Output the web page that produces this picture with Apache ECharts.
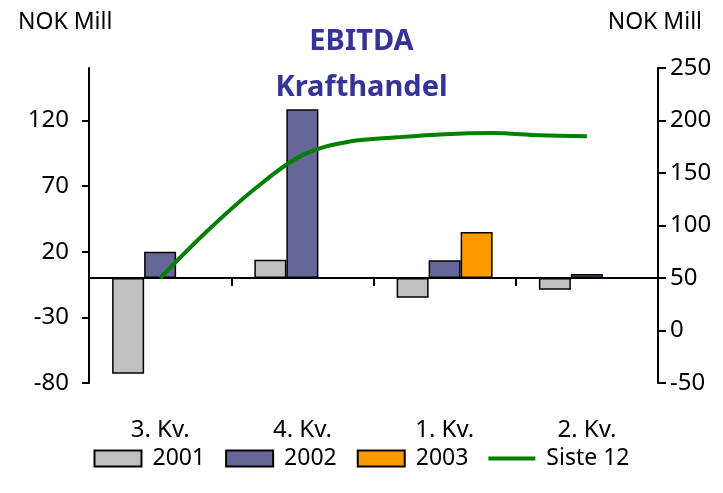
<!DOCTYPE html>
<html>
<head>
<meta charset="utf-8">
<script src="https://cdn.jsdelivr.net/npm/echarts@6/dist/echarts.min.js"></script>
<style>
  html, body { margin: 0; padding: 0; background: #fff; }
  #chart { width: 723px; height: 493px; }
</style>
</head>
<body>
<div id="chart"></div>
<script>
// quarters on the bar axis, months for the rolling line
const quarters = ["3. Kv.", "4. Kv.", "1. Kv.", "2. Kv."];
const months = ["Jul", "Aug", "Sep", "Okt", "Nov", "Des", "Jan", "Feb", "Mar", "Apr", "Mai", "Jun"];

const ebitda2001 = [-73, 14, -15, -9];
const ebitda2002 = [20, 128.5, 13.5, 3];
const ebitda2003 = [null, null, 35, null];
const siste12 = [null, 50, 95, 135, 167, 180, 184, 187, 188, 186, 185, null];

const leftTicks = [-80, -30, 20, 70, 120];

const FONT = "Noto Sans";
const chart = echarts.init(document.getElementById("chart"));

const barStyle = (color) => ({ color: color, borderColor: "#000", borderWidth: 1.5 });

chart.setOption({
  animation: false,
  textStyle: { fontFamily: FONT, color: "#000" },
  title: [
    {
      text: "EBITDA\nKrafthandel",
      left: "center",
      top: 14,
      textStyle: { fontFamily: FONT, fontSize: 29, fontWeight: "bold", color: "#333399", lineHeight: 46 }
    },
    { text: "NOK Mill", left: 13, top: 6, textStyle: { fontFamily: FONT, fontSize: 23, fontWeight: "normal", color: "#000" } },
    { text: "NOK Mill", right: 16, top: 6, textStyle: { fontFamily: FONT, fontSize: 23, fontWeight: "normal", color: "#000" } }
  ],
  legend: {
    top: 442,
    left: "center",
    itemWidth: 47,
    itemHeight: 16,
    itemGap: 20,
    textStyle: { fontFamily: FONT, fontSize: 23, color: "#000", padding: [0, 0, 0, 6] },
    data: [
      { name: "2001", icon: "rect" },
      { name: "2002", icon: "rect" },
      { name: "2003", icon: "rect" },
      { name: "Siste 12", icon: "path://M0,0h60v5h-60z" }
    ]
  },
  grid: { left: 89, right: 65, top: 68, bottom: 110 },
  xAxis: [
    {
      type: "category",
      data: quarters,
      position: "bottom",
      axisLine: { onZero: true, onZeroAxisIndex: 0, lineStyle: { color: "#000", width: 2 } },
      axisTick: { show: true, length: 8, lineStyle: { color: "#000", width: 2 } },
      axisLabel: { show: false },
      splitLine: { show: false }
    },
    {
      type: "category",
      data: quarters,
      position: "bottom",
      axisLine: { show: false, onZero: false },
      axisTick: { show: false },
      axisLabel: { margin: 35, fontFamily: FONT, fontSize: 24, color: "#000" },
      splitLine: { show: false }
    },
    {
      type: "category",
      data: months,
      show: false
    }
  ],
  yAxis: [
    {
      type: "value",
      min: -80,
      max: 160,
      position: "left",
      axisLine: { show: true, lineStyle: { color: "#000", width: 2 } },
      axisTick: { show: true, length: 7, customValues: leftTicks, lineStyle: { color: "#000", width: 2 } },
      axisLabel: { margin: 20, customValues: leftTicks, fontFamily: FONT, fontSize: 24, color: "#000" },
      splitLine: { show: false }
    },
    {
      type: "value",
      min: -50,
      max: 250,
      interval: 50,
      position: "right",
      axisLine: { show: true, lineStyle: { color: "#000", width: 2 } },
      axisTick: { show: true, length: 8, lineStyle: { color: "#000", width: 2 } },
      axisLabel: { margin: 12, fontFamily: FONT, fontSize: 24, color: "#000" },
      splitLine: { show: false }
    }
  ],
  series: [
    { name: "2001", type: "bar", xAxisIndex: 0, yAxisIndex: 0, data: ebitda2001, barWidth: 32, barGap: "0%", itemStyle: barStyle("#C0C0C0") },
    { name: "2002", type: "bar", xAxisIndex: 0, yAxisIndex: 0, data: ebitda2002, barWidth: 32, barGap: "0%", itemStyle: barStyle("#666699") },
    { name: "2003", type: "bar", xAxisIndex: 0, yAxisIndex: 0, data: ebitda2003, barWidth: 32, barGap: "0%", itemStyle: barStyle("#FF9900") },
    {
      name: "Siste 12",
      type: "line",
      xAxisIndex: 2,
      yAxisIndex: 1,
      data: siste12,
      smooth: 0.35,
      symbol: "none",
      connectNulls: false,
      lineStyle: { color: "#008000", width: 4 },
      itemStyle: { color: "#008000" },
      z: 5
    }
  ]
});
</script>
</body>
</html>
